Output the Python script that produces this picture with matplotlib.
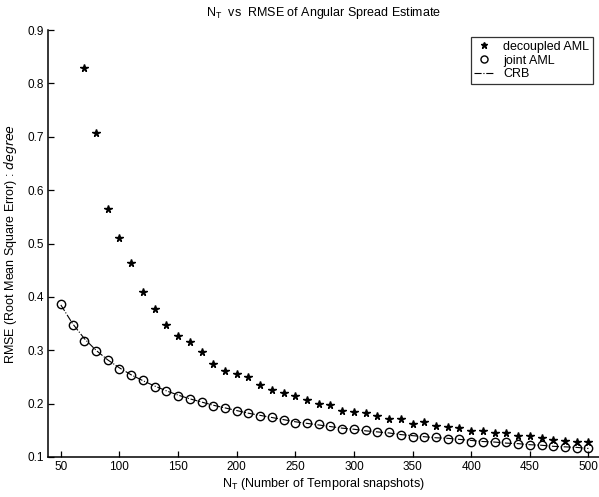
import matplotlib
matplotlib.use('Agg')
import matplotlib.pyplot as plt
from matplotlib.ticker import FormatStrFormatter

plt.rcParams['font.family'] = ['Liberation Sans', 'DejaVu Sans']

# ── data ─────────────────────────────────────────────────────────────────
n_joint = [50, 60, 70, 80, 90, 100, 110, 120, 130, 140, 150, 160, 170, 180,
           190, 200, 210, 220, 230, 240, 250, 260, 270, 280, 290, 300, 310,
           320, 330, 340, 350, 360, 370, 380, 390, 400, 410, 420, 430, 440,
           450, 460, 470, 480, 490, 500]
rmse_joint = [0.387, 0.347, 0.318, 0.298, 0.282, 0.265, 0.254, 0.244, 0.232,
              0.224, 0.215, 0.209, 0.203, 0.196, 0.192, 0.186, 0.182, 0.177,
              0.175, 0.170, 0.164, 0.164, 0.161, 0.158, 0.153, 0.152, 0.150,
              0.147, 0.146, 0.142, 0.138, 0.137, 0.137, 0.134, 0.133, 0.129,
              0.129, 0.128, 0.128, 0.125, 0.123, 0.122, 0.120, 0.119, 0.117,
              0.116]
rmse_crb = [0.385, 0.350, 0.322, 0.300, 0.282, 0.267, 0.254, 0.243, 0.233,
            0.224, 0.216, 0.209, 0.203, 0.197, 0.192, 0.187, 0.182, 0.178,
            0.174, 0.170, 0.166, 0.163, 0.160, 0.157, 0.154, 0.152, 0.149,
            0.147, 0.145, 0.142, 0.140, 0.138, 0.136, 0.135, 0.133, 0.131,
            0.129, 0.128, 0.126, 0.125, 0.123, 0.122, 0.120, 0.119, 0.118,
            0.116]

n_decoupled = n_joint[2:]
rmse_decoupled = [0.829, 0.708, 0.565, 0.510, 0.464, 0.409, 0.377, 0.347,
                  0.327, 0.315, 0.296, 0.274, 0.262, 0.256, 0.250, 0.235,
                  0.226, 0.219, 0.214, 0.206, 0.199, 0.197, 0.187, 0.184,
                  0.182, 0.177, 0.172, 0.171, 0.162, 0.165, 0.158, 0.156,
                  0.154, 0.149, 0.149, 0.145, 0.145, 0.140, 0.140, 0.136,
                  0.131, 0.130, 0.129, 0.129]

x_ticks = [50, 100, 150, 200, 250, 300, 350, 400, 450, 500]
y_ticks = [0.1, 0.2, 0.3, 0.4, 0.5, 0.6, 0.7, 0.8, 0.9]

FS = 9          # title / axis labels / legend
FS_TICK = 8.5

# ── figure ───────────────────────────────────────────────────────────────
fig = plt.figure(figsize=(5.99, 4.97), dpi=100)
ax = fig.add_axes([0.080, 0.0805, 0.92, 0.859])

ax.plot(n_decoupled, rmse_decoupled, linestyle='none', marker='*',
        color='black', ms=5.5, label='decoupled AML')
ax.plot(n_joint, rmse_joint, linestyle='none', marker='o', mfc='none',
        mec='black', mew=1.0, ms=6, label='joint AML')
ax.plot(n_joint, rmse_crb, linestyle='-.', color='black', lw=0.8,
        label='CRB')

ax.set_xlim(39, 509)
ax.set_ylim(0.1, 0.9)
ax.set_xticks(x_ticks)
ax.set_yticks(y_ticks)
ax.yaxis.set_major_formatter(FormatStrFormatter('%.1f'))

for side in ('top', 'right'):
    ax.spines[side].set_visible(False)
for side in ('left', 'bottom'):
    ax.spines[side].set_linewidth(1.1)
ax.tick_params(direction='in', length=4, width=0.9, labelsize=FS_TICK,
               colors='black', pad=3)

ax.set_title(r'N$_\mathregular{T}$  vs  RMSE of Angular Spread Estimate',
             fontsize=FS, pad=10)
ax.set_xlabel(r'N$_\mathregular{T}$ (Number of Temporal snapshots)',
              fontsize=FS, labelpad=2)
ax.set_ylabel(r'RMSE (Root Mean Square Error) : $\it{degree}$',
              fontsize=FS, labelpad=6)

leg = ax.legend(loc='upper right', bbox_to_anchor=(0.989, 0.984),
                fontsize=FS, frameon=True, fancybox=False,
                handlelength=1.6, handletextpad=0.7, borderpad=0.3,
                labelspacing=0.15, markerscale=0.85, borderaxespad=0)
leg.get_frame().set_edgecolor('black')
leg.get_frame().set_linewidth(0.9)

fig.savefig('out.png', dpi=100)
